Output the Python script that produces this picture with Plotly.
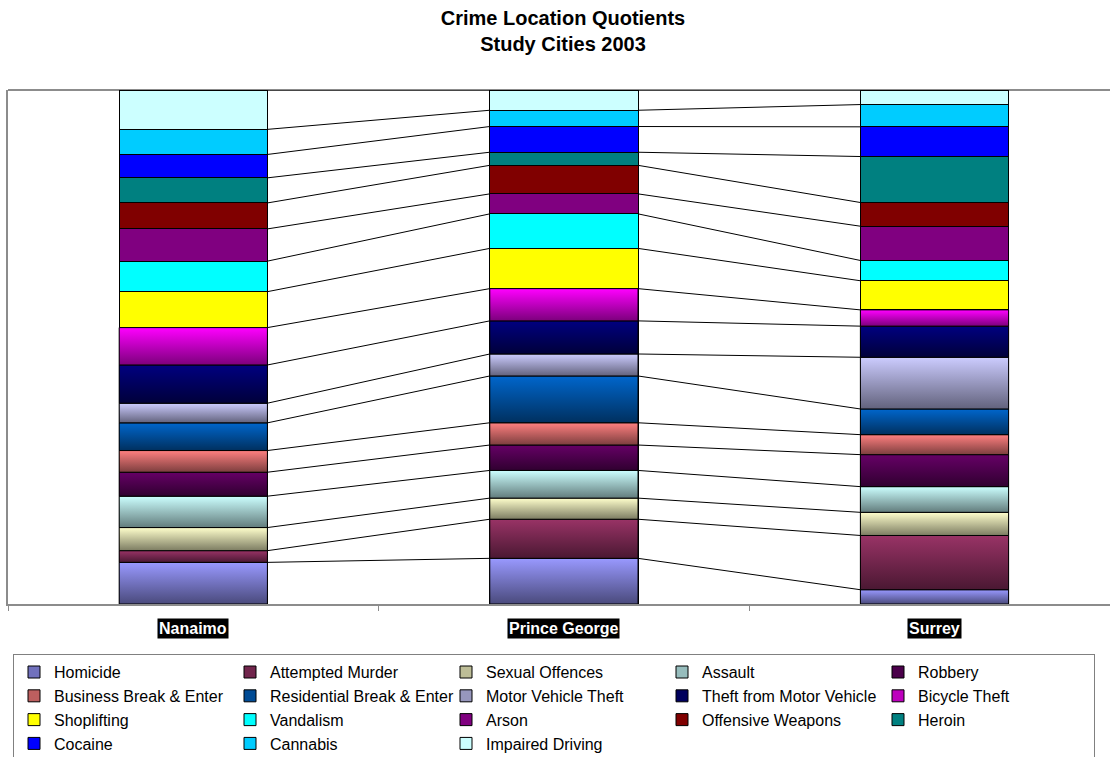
import numpy as np
import plotly.graph_objects as go

# ---------------- data ----------------
cities = ["Nanaimo", "Prince George", "Surrey"]
crimes = [
    "Homicide", "Attempted Murder", "Sexual Offences", "Assault", "Robbery",
    "Business Break & Enter", "Residential Break & Enter", "Motor Vehicle Theft",
    "Theft from Motor Vehicle", "Bicycle Theft", "Shoplifting", "Vandalism",
    "Arson", "Offensive Weapons", "Heroin", "Cocaine", "Cannabis", "Impaired Driving",
]
nanaimo = [1.46, 0.41, 0.81, 1.10, 0.84, 0.76, 0.97, 0.69, 1.34,
           1.31, 1.26, 1.07, 1.13, 0.91, 0.88, 0.82, 0.88, 1.38]
prince_george = [1.60, 1.37, 0.74, 0.97, 0.89, 0.78, 1.64, 0.77, 1.16,
                 1.13, 1.41, 1.21, 0.70, 1.00, 0.46, 0.90, 0.57, 0.71]
surrey = [0.50, 1.90, 0.81, 0.90, 1.12, 0.70, 0.90, 1.81, 1.09,
          0.57, 1.02, 0.71, 1.20, 0.83, 1.61, 1.04, 0.78, 0.51]

# ---------------- styles ----------------
top_colors = ["#9999FF", "#993366", "#FFFFCC", "#CCFFFF", "#660066",
              "#FF8080", "#0066CC", "#CCCCFF", "#000080", "#FF00FF",
              "#FFFF00", "#00FFFF", "#800080", "#800000", "#008080",
              "#0000FF", "#00CCFF", "#CCFFFF"]
bottom_colors = ["#4A4A7C", "#4A1832", "#7C7C62", "#627C7C", "#300030",
                 "#7C3E3E", "#00305F", "#62627C", "#00003A", "#7C007C",
                 None, None, None, None, None, None, None, None]

FONT = "Liberation Sans, Arial, sans-serif"
BAR_W = 0.4
AXIS_GRAY = "#8c8c8c"


def mix(c1, c2):
    a = [int(c1[i:i + 2], 16) for i in (1, 3, 5)]
    b = [int(c2[i:i + 2], 16) for i in (1, 3, 5)]
    return "#" + "".join(f"{(x + y) // 2:02X}" for x, y in zip(a, b))


values = np.array([nanaimo, prince_george, surrey], dtype=float).T  # (crimes, cities)
pct = values / values.sum(axis=0) * 100.0
cum_top = np.cumsum(pct, axis=0)
cum_bot = cum_top - pct
xs = np.arange(len(cities))

fig = go.Figure()

# stacked bars (100 % via barnorm)
for s, name in enumerate(crimes):
    base_col = top_colors[s] if bottom_colors[s] is None else mix(top_colors[s], bottom_colors[s])
    fig.add_trace(go.Bar(
        x=xs, y=values[s], name=name, width=BAR_W,
        marker=dict(color=base_col, line=dict(color="black", width=1)),
        hoverinfo="name+y",
    ))

# gradient faces for the gradient-filled series
for s, name in enumerate(crimes):
    if bottom_colors[s] is None:
        continue
    for i in range(len(cities)):
        b, t = cum_bot[s, i], cum_top[s, i]
        x0, x1 = xs[i] - BAR_W / 2, xs[i] + BAR_W / 2
        fig.add_trace(go.Scatter(
            x=[x0, x1, x1, x0, x0], y=[b, b, t, t, b],
            mode="lines", fill="toself",
            fillgradient=dict(type="vertical",
                              colorscale=[[0, bottom_colors[s]], [1, top_colors[s]]]),
            line=dict(color="black", width=1),
            showlegend=False, hoverinfo="skip",
        ))

# series lines joining segment tops between adjacent bars
lx, ly = [], []
for s in range(len(crimes)):
    for i in range(len(cities) - 1):
        lx += [xs[i] + BAR_W / 2, xs[i + 1] - BAR_W / 2, None]
        ly += [cum_top[s, i], cum_top[s, i + 1], None]
fig.add_trace(go.Scatter(x=lx, y=ly, mode="lines",
                         line=dict(color="black", width=1),
                         showlegend=False, hoverinfo="skip"))

# category labels (white on black)
for i, c in enumerate(cities):
    fig.add_annotation(x=xs[i], xref="x", y=-0.0486, yref="paper",
                       text=c, showarrow=False, yanchor="middle",
                       font=dict(family=FONT, size=16, color="white", weight="bold"),
                       bgcolor="black", borderpad=1)

fig.add_shape(type="line", xref="paper", yref="paper", x0=0, x1=1, y0=1, y1=1,
              line=dict(color=AXIS_GRAY, width=2), layer="below")

fig.update_layout(
    width=1110, height=757, autosize=False,
    margin=dict(l=8, r=0, t=90, b=153, autoexpand=False),
    paper_bgcolor="white", plot_bgcolor="white",
    barmode="stack", barnorm="percent",
    title=dict(text="Crime Location Quotients<br>Study Cities 2003",
               x=563 / 1110, xref="container", xanchor="center",
               y=1 - 25 / 757, yref="container", yanchor="top",
               font=dict(family=FONT, size=20, color="black", weight="bold")),
    xaxis=dict(range=[-0.5, -0.5 + 1102 / 370.6], tickvals=[-0.5, 0.5, 1.5, 2.5],
               ticks="outside", ticklen=5, tickwidth=1, tickcolor=AXIS_GRAY,
               showticklabels=False, showline=True, linecolor=AXIS_GRAY, linewidth=2,
               showgrid=False, zeroline=False),
    yaxis=dict(range=[0, 100], showticklabels=False, ticks="", showline=True,
               linecolor=AXIS_GRAY, linewidth=2, showgrid=False, zeroline=False),
    legend=dict(orientation="h", x=5 / 1102, xanchor="left", y=-0.0975, yanchor="top",
                traceorder="normal", font=dict(family=FONT, size=16, color="black"),
                bgcolor="white", bordercolor="#808080", borderwidth=1,
                entrywidth=171, entrywidthmode="pixels"),
    showlegend=True,
)

fig.write_html("out.html")
